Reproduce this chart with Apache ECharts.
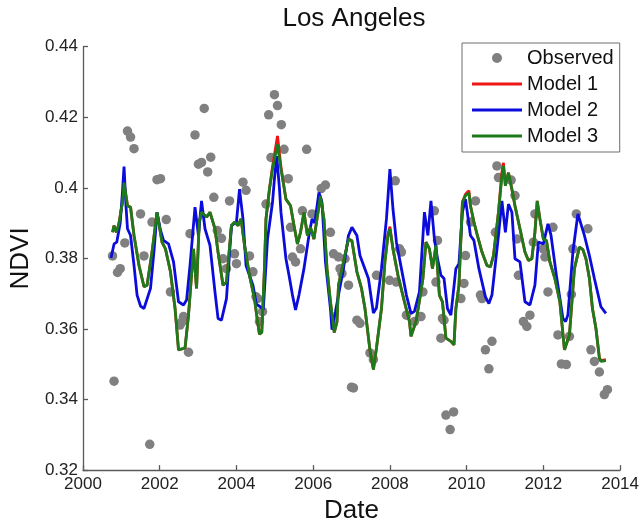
<!DOCTYPE html>
<html>
<head>
<meta charset="utf-8">
<script src="https://cdn.jsdelivr.net/npm/echarts@6/dist/echarts.min.js"></script>
<style>
  html, body { margin: 0; padding: 0; background: #fff; }
  #chart { width: 642px; height: 529px; }
</style>
</head>
<body>
<div id="chart"></div>
<script>
// Observed NDVI (decimal year, value)
var obsDates = [
  2000.77, 2000.81, 2000.90, 2000.97, 2001.09, 2001.16, 2001.24, 2001.33, 2001.50, 2001.59,
  2001.74, 2001.80, 2001.93, 2002.02, 2002.17, 2002.28, 2002.53, 2002.58, 2002.62, 2002.75,
  2002.79, 2002.92, 2003.01, 2003.09, 2003.16, 2003.25, 2003.33, 2003.41, 2003.50, 2003.61,
  2003.65, 2003.74, 2003.82, 2003.95, 2004.00, 2004.17, 2004.25, 2004.34, 2004.43, 2004.51,
  2004.55, 2004.60, 2004.68, 2004.77, 2004.84, 2004.90, 2004.99, 2005.07, 2005.17, 2005.24,
  2005.35, 2005.41, 2005.46, 2005.54, 2005.67, 2005.72, 2005.83, 2005.97, 2006.21, 2006.32,
  2006.45, 2006.53, 2006.66, 2006.70, 2006.75, 2006.83, 2006.92, 2007.00, 2007.05, 2007.14,
  2007.22, 2007.48, 2007.57, 2007.65, 2007.99, 2008.14, 2008.17, 2008.25, 2008.30, 2008.43,
  2008.64, 2008.81, 2008.86, 2009.16, 2009.20, 2009.24, 2009.33, 2009.37, 2009.41, 2009.46,
  2009.57, 2009.66, 2009.85, 2009.93, 2009.97, 2010.10, 2010.23, 2010.36, 2010.40, 2010.49,
  2010.58, 2010.66, 2010.75, 2010.79, 2010.83, 2011.16, 2011.26, 2011.31, 2011.35, 2011.48,
  2011.57, 2011.65, 2011.74, 2011.78, 2012.00, 2012.04, 2012.12, 2012.25, 2012.38, 2012.47,
  2012.60, 2012.68, 2012.73, 2012.77, 2012.86, 2013.16, 2013.24, 2013.33, 2013.46, 2013.59,
  2013.67
];
var obsValues = [
  0.3807, 0.3452, 0.3760, 0.3771, 0.3844, 0.4161, 0.4144, 0.4111, 0.3926, 0.3807,
  0.3273, 0.3903, 0.4023, 0.4026, 0.3910, 0.3705, 0.3611, 0.3620, 0.3635, 0.3534,
  0.3870, 0.4150, 0.4067, 0.4072, 0.4225, 0.4045, 0.4087, 0.3973, 0.3879, 0.3857,
  0.3799, 0.3771, 0.3963, 0.3813, 0.3785, 0.4016, 0.3993, 0.3807, 0.3762, 0.3691,
  0.3686, 0.3621, 0.3649, 0.3954, 0.4207, 0.4086, 0.4264, 0.4233, 0.4179, 0.4109,
  0.4026, 0.3888, 0.3804, 0.3790, 0.3827, 0.3935, 0.4109, 0.3926, 0.3998, 0.4008,
  0.3874, 0.3813, 0.3804, 0.3771, 0.3757, 0.3799, 0.3724, 0.3435, 0.3433, 0.3625,
  0.3616, 0.3532, 0.3513, 0.3752, 0.3738, 0.4020, 0.3733, 0.3827, 0.3818, 0.3639,
  0.3621, 0.3635, 0.3705, 0.3935, 0.3733, 0.3851, 0.3574, 0.3630, 0.3625, 0.3356,
  0.3315, 0.3365, 0.3686, 0.3729, 0.3808, 0.3903, 0.3963, 0.3696, 0.3686, 0.3541,
  0.3487, 0.3565, 0.3874, 0.4062, 0.4029, 0.4022, 0.3978, 0.3855, 0.3752, 0.3621,
  0.3607, 0.3639, 0.3846, 0.3926, 0.3827, 0.3804, 0.3705, 0.3888, 0.3583, 0.3501,
  0.3499, 0.3579, 0.3698, 0.3827, 0.3926, 0.3884, 0.3541, 0.3508, 0.3478, 0.3414,
  0.3428
];

// Model 2 fit
var model2Dates = [
  2000.73, 2000.81, 2000.88, 2000.97, 2001.03, 2001.07, 2001.12, 2001.16, 2001.24, 2001.33,
  2001.41, 2001.50, 2001.59, 2001.76, 2001.85, 2001.93, 2002.02, 2002.10, 2002.23, 2002.36,
  2002.49, 2002.62, 2002.70, 2002.79, 2002.92, 2003.01, 2003.09, 2003.18, 2003.31, 2003.44,
  2003.52, 2003.61, 2003.74, 2003.87, 2004.00, 2004.08, 2004.17, 2004.25, 2004.43, 2004.52,
  2004.62, 2004.70, 2004.81, 2004.94, 2004.99, 2005.05, 2005.12, 2005.16, 2005.29, 2005.37,
  2005.46, 2005.54, 2005.63, 2005.76, 2005.89, 2005.97, 2006.04, 2006.15, 2006.23, 2006.32,
  2006.45, 2006.49, 2006.58, 2006.66, 2006.79, 2006.92, 2007.01, 2007.14, 2007.22, 2007.44,
  2007.57, 2007.65, 2007.78, 2007.91, 2008.00, 2008.08, 2008.17, 2008.30, 2008.43, 2008.55,
  2008.64, 2008.77, 2008.90, 2008.99, 2009.07, 2009.16, 2009.24, 2009.33, 2009.41, 2009.50,
  2009.59, 2009.63, 2009.72, 2009.80, 2009.89, 2009.97, 2010.10, 2010.19, 2010.32, 2010.49,
  2010.58, 2010.66, 2010.83, 2010.92, 2011.01, 2011.09, 2011.18, 2011.26, 2011.39, 2011.52,
  2011.65, 2011.78, 2011.87, 2012.00, 2012.12, 2012.20, 2012.34, 2012.51, 2012.58, 2012.64,
  2012.77, 2012.90, 2013.07, 2013.20, 2013.33, 2013.50, 2013.63
];
var model2Values = [
  0.3801, 0.3841, 0.3846, 0.3900, 0.3990, 0.4060, 0.3950, 0.3884, 0.3865, 0.3780,
  0.3696, 0.3665, 0.3658, 0.3715, 0.3820, 0.3930, 0.3880, 0.3851, 0.3841, 0.3790,
  0.3677, 0.3668, 0.3682, 0.3780, 0.3945, 0.3865, 0.3963, 0.3884, 0.3837, 0.3705,
  0.3630, 0.3625, 0.3686, 0.3893, 0.3903, 0.3996, 0.3912, 0.3780, 0.3724, 0.3670,
  0.3663, 0.3655, 0.3855, 0.3959, 0.4025, 0.4090, 0.4000, 0.3931, 0.3799, 0.3752,
  0.3696, 0.3654, 0.3696, 0.3771, 0.3865, 0.3912, 0.3900, 0.3987, 0.3959, 0.3790,
  0.3658, 0.3598, 0.3649, 0.3696, 0.3771, 0.3865, 0.3888, 0.3865, 0.3808, 0.3743,
  0.3645, 0.3660, 0.3771, 0.3912, 0.4053, 0.3940, 0.3846, 0.3771, 0.3696, 0.3644,
  0.3650, 0.3705, 0.3931, 0.3865, 0.3963, 0.3855, 0.3800, 0.3752, 0.3743, 0.3658,
  0.3639, 0.3640, 0.3771, 0.3785, 0.3931, 0.3968, 0.3865, 0.3851, 0.3771, 0.3691,
  0.3672, 0.3696, 0.3865, 0.3963, 0.3874, 0.3954, 0.3931, 0.3799, 0.3790, 0.3677,
  0.3668, 0.3724, 0.3846, 0.3841, 0.3898, 0.3865, 0.3752, 0.3630, 0.3621, 0.3640,
  0.3818, 0.3926, 0.3865, 0.3808, 0.3743, 0.3663, 0.3644
];

// Models 1 and 3 share the same dates
var model13Dates = [
  2000.77, 2000.81, 2000.87, 2000.93, 2001.03, 2001.07, 2001.16, 2001.24, 2001.33, 2001.46,
  2001.59, 2001.67, 2001.80, 2001.93, 2002.06, 2002.15, 2002.28, 2002.40, 2002.49, 2002.66,
  2002.75, 2002.79, 2002.88, 2002.96, 2003.03, 2003.09, 2003.22, 2003.31, 2003.44, 2003.52,
  2003.65, 2003.74, 2003.87, 2003.95, 2004.04, 2004.12, 2004.21, 2004.34, 2004.47, 2004.55,
  2004.60, 2004.66, 2004.73, 2004.77, 2004.86, 2004.94, 2005.07, 2005.16, 2005.29, 2005.41,
  2005.50, 2005.59, 2005.67, 2005.76, 2005.85, 2005.93, 2006.02, 2006.10, 2006.19, 2006.28,
  2006.36, 2006.45, 2006.55, 2006.62, 2006.66, 2006.79, 2006.92, 2007.01, 2007.14, 2007.26,
  2007.35, 2007.48, 2007.57, 2007.65, 2007.78, 2007.87, 2007.95, 2008.00, 2008.08, 2008.21,
  2008.38, 2008.51, 2008.55, 2008.68, 2008.77, 2008.86, 2008.94, 2009.03, 2009.11, 2009.20,
  2009.29, 2009.37, 2009.46, 2009.59, 2009.67, 2009.72, 2009.80, 2009.89, 2009.97, 2010.06,
  2010.10, 2010.19, 2010.28, 2010.40, 2010.53, 2010.62, 2010.70, 2010.83, 2010.92, 2010.96,
  2011.01, 2011.09, 2011.18, 2011.26, 2011.39, 2011.52, 2011.61, 2011.70, 2011.78, 2011.84,
  2011.91, 2012.00, 2012.08, 2012.17, 2012.30, 2012.43, 2012.55, 2012.68, 2012.76, 2012.81,
  2012.94, 2013.03, 2013.11, 2013.20, 2013.28, 2013.37, 2013.46, 2013.50, 2013.63
];
var model3Values = [
  0.3874, 0.3893, 0.3874, 0.3895, 0.3959, 0.4015, 0.3949, 0.3945, 0.3865, 0.3780,
  0.3720, 0.3724, 0.3818, 0.3931, 0.3846, 0.3827, 0.3762, 0.3658, 0.3541, 0.3546,
  0.3639, 0.3696, 0.3827, 0.3715, 0.3903, 0.3931, 0.3917, 0.3931, 0.3884, 0.3818,
  0.3724, 0.3733, 0.3893, 0.3903, 0.3893, 0.3912, 0.3837, 0.3752, 0.3686, 0.3621,
  0.3585, 0.3590, 0.3771, 0.3912, 0.3996, 0.4053, 0.4123, 0.4053, 0.3968, 0.3949,
  0.3893, 0.3841, 0.3874, 0.3931, 0.3865, 0.3888, 0.3855, 0.3912, 0.3977, 0.3912,
  0.3771, 0.3677, 0.3590, 0.3620, 0.3724, 0.3790, 0.3855, 0.3850, 0.3762, 0.3715,
  0.3658, 0.3540, 0.3485, 0.3546, 0.3658, 0.3790, 0.3865, 0.3884, 0.3827, 0.3752,
  0.3677, 0.3621, 0.3579, 0.3621, 0.3680, 0.3743, 0.3846, 0.3827, 0.3771, 0.3837,
  0.3696, 0.3677, 0.3574, 0.3565, 0.3555, 0.3658, 0.3724, 0.3959, 0.3978, 0.3985,
  0.3949, 0.3903, 0.3865, 0.3818, 0.3780, 0.3776, 0.3808, 0.3931, 0.4034, 0.4062,
  0.4006, 0.4043, 0.3996, 0.3949, 0.3884, 0.3818, 0.3794, 0.3799, 0.3874, 0.3963,
  0.3912, 0.3855, 0.3851, 0.3790, 0.3743, 0.3677, 0.3541, 0.3583, 0.3700, 0.3771,
  0.3832, 0.3825, 0.3799, 0.3743, 0.3658, 0.3602, 0.3518, 0.3508, 0.3510
];
var model1Values = [
  0.3874, 0.3893, 0.3874, 0.3895, 0.3959, 0.4015, 0.3949, 0.3945, 0.3865, 0.3780,
  0.3720, 0.3724, 0.3818, 0.3931, 0.3846, 0.3827, 0.3762, 0.3658, 0.3541, 0.3546,
  0.3639, 0.3696, 0.3827, 0.3715, 0.3903, 0.3931, 0.3917, 0.3931, 0.3884, 0.3818,
  0.3724, 0.3733, 0.3893, 0.3903, 0.3893, 0.3912, 0.3837, 0.3752, 0.3686, 0.3621,
  0.3585, 0.3590, 0.3771, 0.3912, 0.3996, 0.4060, 0.4147, 0.4060, 0.3968, 0.3949,
  0.3893, 0.3841, 0.3874, 0.3931, 0.3865, 0.3888, 0.3855, 0.3912, 0.3977, 0.3912,
  0.3771, 0.3677, 0.3590, 0.3620, 0.3724, 0.3790, 0.3855, 0.3850, 0.3762, 0.3715,
  0.3658, 0.3540, 0.3485, 0.3546, 0.3658, 0.3790, 0.3868, 0.3890, 0.3827, 0.3752,
  0.3677, 0.3621, 0.3579, 0.3621, 0.3680, 0.3743, 0.3846, 0.3827, 0.3771, 0.3837,
  0.3696, 0.3677, 0.3574, 0.3565, 0.3555, 0.3658, 0.3724, 0.3959, 0.3982, 0.3992,
  0.3949, 0.3903, 0.3865, 0.3818, 0.3780, 0.3776, 0.3808, 0.3931, 0.4045, 0.4071,
  0.4006, 0.4043, 0.3996, 0.3949, 0.3884, 0.3818, 0.3794, 0.3799, 0.3874, 0.3963,
  0.3912, 0.3855, 0.3851, 0.3790, 0.3743, 0.3677, 0.3541, 0.3583, 0.3700, 0.3771,
  0.3832, 0.3825, 0.3799, 0.3743, 0.3658, 0.3602, 0.3518, 0.3510, 0.3513
];

var xTicks = { min: 2000, max: 2014, step: 2 };
var yTicks = { min: 0.32, max: 0.44, step: 0.02 };

function pairs(xs, ys) {
  return xs.map(function (x, i) { return [x, ys[i]]; });
}

var FONT = '"Liberation Sans", Arial, sans-serif';
var AXIS_COLOR = '#5a5a5a';
// thin horizontal bar used as the legend key for the model lines
var LINE_KEY = 'path://M0,0 H50 V3 H0 Z';

var chart = echarts.init(document.getElementById('chart'), null, { renderer: 'canvas' });

chart.setOption({
  animation: false,
  backgroundColor: '#ffffff',
  title: {
    text: 'Los Angeles',
    left: 349, top: 1,
    textAlign: 'center',
    textStyle: { fontFamily: FONT, fontSize: 26, fontWeight: 'normal', color: '#111' }
  },
  grid: { left: 78.5, right: 21.3, top: 46.7, bottom: 56.3, containLabel: false },
  xAxis: {
    type: 'value',
    min: xTicks.min, max: xTicks.max, interval: xTicks.step,
    name: 'Date', nameLocation: 'middle', nameGap: 27,
    nameTextStyle: { fontFamily: FONT, fontSize: 26, color: '#111' },
    axisLine: { show: true, onZero: false, lineStyle: { color: AXIS_COLOR, width: 1.3 } },
    axisTick: { show: true, inside: true, length: 5, lineStyle: { color: AXIS_COLOR, width: 1.3 } },
    axisLabel: { fontFamily: FONT, fontSize: 17, color: '#222', margin: 6,
      formatter: function (v) { return String(v); } },
    splitLine: { show: false }
  },
  yAxis: {
    type: 'value',
    min: yTicks.min, max: yTicks.max, interval: yTicks.step,
    name: 'NDVI', nameLocation: 'middle', nameGap: 41, nameRotate: 90,
    nameTextStyle: { fontFamily: FONT, fontSize: 26, color: '#111' },
    axisLine: { show: true, onZero: false, lineStyle: { color: AXIS_COLOR, width: 1.3 } },
    axisTick: { show: true, inside: true, length: 5, lineStyle: { color: AXIS_COLOR, width: 1.3 } },
    axisLabel: { fontFamily: FONT, fontSize: 17, color: '#222', margin: 5,
      formatter: function (v) { return String(+v.toFixed(2)); } },
    splitLine: { show: false }
  },
  legend: {
    orient: 'vertical',
    left: 462, top: 43,
    padding: [5, 6, 6, 10],
    itemGap: 6,
    itemWidth: 50, itemHeight: 10,
    backgroundColor: '#fff',
    borderColor: '#6e6e6e', borderWidth: 1, borderRadius: 0,
    textStyle: { fontFamily: FONT, fontSize: 20, color: '#111' },
    data: [
      { name: 'Observed', icon: 'circle' },
      { name: 'Model 1', icon: LINE_KEY },
      { name: 'Model 2', icon: LINE_KEY },
      { name: 'Model 3', icon: LINE_KEY }
    ]
  },
  series: [
    {
      name: 'Observed', type: 'scatter',
      data: pairs(obsDates, obsValues),
      symbol: 'circle', symbolSize: 9.5,
      itemStyle: { color: '#808080', opacity: 1 },
      z: 1
    },
    {
      name: 'Model 1', type: 'line',
      data: pairs(model13Dates, model1Values),
      symbol: 'none', showSymbol: false,
      lineStyle: { color: '#ee1515', width: 2.8 },
      itemStyle: { color: '#ee1515' },
      z: 2
    },
    {
      name: 'Model 2', type: 'line',
      data: pairs(model2Dates, model2Values),
      symbol: 'none', showSymbol: false,
      lineStyle: { color: '#0b0bdc', width: 2.8 },
      itemStyle: { color: '#0b0bdc' },
      z: 3
    },
    {
      name: 'Model 3', type: 'line',
      data: pairs(model13Dates, model3Values),
      symbol: 'none', showSymbol: false,
      lineStyle: { color: '#1c7c1c', width: 2.8 },
      itemStyle: { color: '#1c7c1c' },
      z: 4
    }
  ]
});
</script>
</body>
</html>
